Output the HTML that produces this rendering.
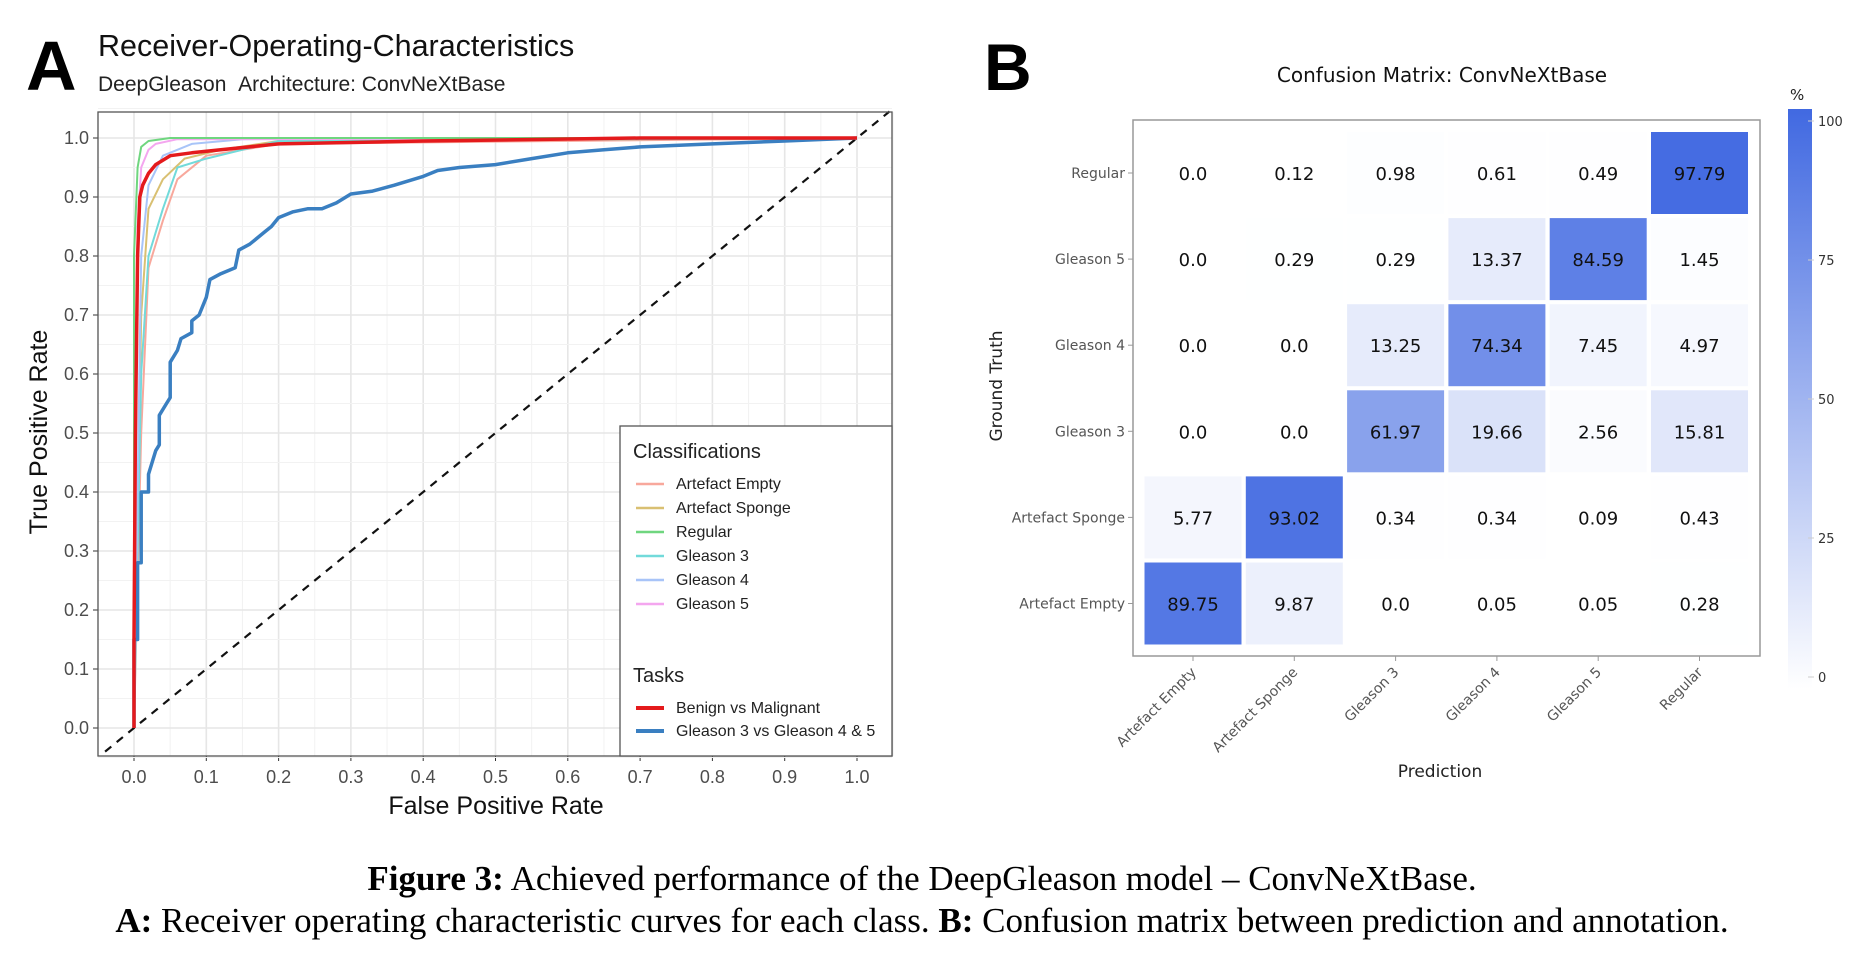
<!DOCTYPE html>
<html><head><meta charset="utf-8"><style>
html,body{margin:0;padding:0;background:#fff;width:1871px;height:956px;overflow:hidden}
svg{display:block}
text{font-family:"Liberation Sans",sans-serif}
</style></head><body>
<svg id="fig" width="1871" height="956" viewBox="0 0 1871 956">
<g id="roc"></g>
<g id="cm"></g>
<text x="922" y="890" text-anchor="middle" font-size="35" style="font-family:'Liberation Serif',serif"><tspan font-weight="bold">Figure 3:</tspan> Achieved performance of the DeepGleason model – ConvNeXtBase.</text>
<text x="922" y="932" text-anchor="middle" font-size="35" style="font-family:'Liberation Serif',serif"><tspan font-weight="bold">A:</tspan> Receiver operating characteristic curves for each class. <tspan font-weight="bold">B:</tspan> Confusion matrix between prediction and annotation.</text>
</svg>
<script>
// ROC data
const rocNames=["Artefact Empty","Artefact Sponge","Regular","Gleason 3","Gleason 4","Gleason 5"];
const rocColors=["#f8a89c","#d9c072","#6fd67f","#72dada","#a8c4f8","#f4a6ef"];
const aeFpr=[0,0.01,0.02,0.04,0.06,0.1,0.2,1];
const aeTpr=[0,0.5,0.78,0.86,0.93,0.97,0.99,1];
const asFpr=[0,0.01,0.02,0.04,0.07,0.12,0.2,1];
const asTpr=[0,0.7,0.88,0.93,0.965,0.98,0.995,1];
const rgFpr=[0,0,0.005,0.01,0.02,0.05,1];
const rgTpr=[0,0.8,0.95,0.985,0.995,1,1];
const g3Fpr=[0,0.01,0.02,0.04,0.06,0.1,0.15,0.2,1];
const g3Tpr=[0,0.6,0.8,0.88,0.95,0.965,0.98,0.995,1];
const g4Fpr=[0,0.01,0.02,0.04,0.08,0.15,1];
const g4Tpr=[0,0.8,0.92,0.97,0.99,0.998,1];
const g5Fpr=[0,0.005,0.01,0.02,0.03,0.06,1];
const g5Tpr=[0,0.85,0.95,0.98,0.99,0.998,1];
const bmFpr=[0,0,0.002,0.005,0.008,0.012,0.02,0.03,0.05,0.08,0.12,0.2,0.4,0.7,1];
const bmTpr=[0,0.15,0.5,0.8,0.9,0.92,0.94,0.955,0.97,0.975,0.98,0.99,0.995,1,1];
const gsFpr=[0,0,0.005,0.005,0.01,0.01,0.02,0.02,0.025,0.03,0.035,0.035,0.045,0.05,0.05,0.06,0.065,0.08,0.08,0.09,0.1,0.105,0.12,0.14,0.145,0.16,0.18,0.19,0.2,0.22,0.24,0.26,0.28,0.3,0.33,0.36,0.4,0.42,0.45,0.5,0.55,0.6,0.65,0.7,0.8,0.9,1];
const gsTpr=[0,0.15,0.15,0.28,0.28,0.4,0.4,0.43,0.45,0.47,0.48,0.53,0.55,0.56,0.62,0.64,0.66,0.67,0.69,0.7,0.73,0.76,0.77,0.78,0.81,0.82,0.84,0.85,0.865,0.875,0.88,0.88,0.89,0.905,0.91,0.92,0.935,0.945,0.95,0.955,0.965,0.975,0.98,0.985,0.99,0.995,1];
const xTicks=[0,0.1,0.2,0.3,0.4,0.5,0.6,0.7,0.8,0.9,1.0];
const yTicks=[0,0.1,0.2,0.3,0.4,0.5,0.6,0.7,0.8,0.9,1.0];
// Confusion matrix data (rows top->bottom)
const rowLabels=["Regular","Gleason 5","Gleason 4","Gleason 3","Artefact Sponge","Artefact Empty"];
const colLabels=["Artefact Empty","Artefact Sponge","Gleason 3","Gleason 4","Gleason 5","Regular"];
const cmRegular=[0.0,0.12,0.98,0.61,0.49,97.79];
const cmG5=[0.0,0.29,0.29,13.37,84.59,1.45];
const cmG4=[0.0,0.0,13.25,74.34,7.45,4.97];
const cmG3=[0.0,0.0,61.97,19.66,2.56,15.81];
const cmAS=[5.77,93.02,0.34,0.34,0.09,0.43];
const cmAE=[89.75,9.87,0.0,0.05,0.05,0.28];
const cbTicks=[0,25,50,75,100];

const NS="http://www.w3.org/2000/svg";
function mk(p,t,a){const e=document.createElementNS(NS,t);for(const k in a)e.setAttribute(k,a[k]);p.appendChild(e);return e;}

// ---------- ROC ----------
const roc=document.getElementById('roc');
const X=v=>134+v*723, Y=v=>728-v*590;
const PL=98,PR=892,PT=112,PB=756;
let t;
t=mk(roc,'text',{x:26,y:90,'font-size':70,'font-weight':'bold'});t.textContent='A';


t=mk(roc,'text',{x:98,y:56,'font-size':30.5,fill:'#111'});t.textContent='Receiver-Operating-Characteristics';


t=mk(roc,'text',{x:98,y:91,'font-size':21,fill:'#222','xml:space':'preserve'});t.textContent='DeepGleason\u00a0\u00a0Architecture: ConvNeXtBase';


mk(roc,'rect',{x:PL,y:PT,width:PR-PL,height:PB-PT,fill:'#fff'});
for(let i=0;i<xTicks.length;i++){
  const v=xTicks[i];
  mk(roc,'line',{x1:X(v+0.05),x2:X(v+0.05),y1:PT,y2:PB,stroke:'#f2f2f2','stroke-width':1});
  mk(roc,'line',{x1:X(v),x2:X(v),y1:PT,y2:PB,stroke:'#e6e6e6','stroke-width':1.6});
  mk(roc,'line',{x1:X(v),x2:X(v),y1:PB,y2:PB+5,stroke:'#333'});
  const l=mk(roc,'text',{x:X(v),y:PB+27,'font-size':18,fill:'#4d4d4d','text-anchor':'middle'});l.textContent=v.toFixed(1);
  
  
}
mk(roc,'line',{x1:X(-0.05),x2:X(-0.05),y1:PT,y2:PB,stroke:'#f2f2f2'});
for(let i=0;i<yTicks.length;i++){
  const v=yTicks[i];
  mk(roc,'line',{y1:Y(v+0.05),y2:Y(v+0.05),x1:PL,x2:PR,stroke:'#f2f2f2','stroke-width':1});
  mk(roc,'line',{y1:Y(v),y2:Y(v),x1:PL,x2:PR,stroke:'#e6e6e6','stroke-width':1.6});
  mk(roc,'line',{y1:Y(v),y2:Y(v),x1:PL-5,x2:PL,stroke:'#333'});
  const l=mk(roc,'text',{x:PL-9,y:Y(v)+6,'font-size':18,fill:'#4d4d4d','text-anchor':'end'});l.textContent=v.toFixed(1);
  
  
}
mk(roc,'line',{y1:Y(-0.05),y2:Y(-0.05),x1:PL,x2:PR,stroke:'#f2f2f2'});
const dl=mk(roc,'line',{x1:X(-0.04),y1:Y(-0.04),x2:X(1.045),y2:Y(1.045),stroke:'#111','stroke-width':2.2,'stroke-dasharray':'8,7'});


function curve(fx,fy,col,w,name){
  const pts=fx.map((v,i)=>X(v).toFixed(1)+','+Y(fy[i]).toFixed(1)).join(' ');
  const p=mk(roc,'polyline',{points:pts,fill:'none',stroke:col,'stroke-width':w,'stroke-linejoin':'round'});
  
  
}
curve(aeFpr,aeTpr,rocColors[0],2,'roc-artefact-empty');
curve(asFpr,asTpr,rocColors[1],2,'roc-artefact-sponge');
curve(g3Fpr,g3Tpr,rocColors[3],2,'roc-gleason-3');
curve(g4Fpr,g4Tpr,rocColors[4],2,'roc-gleason-4');
curve(g5Fpr,g5Tpr,rocColors[5],2,'roc-gleason-5');
curve(rgFpr,rgTpr,rocColors[2],2,'roc-regular');
curve(gsFpr,gsTpr,'#3a7fc1',3.5,'roc-gleason3-vs-gleason45');
curve(bmFpr,bmTpr,'#e41a1c',3.5,'roc-benign-vs-malignant');
mk(roc,'rect',{x:PL,y:PT,width:PR-PL,height:PB-PT,fill:'none',stroke:'#555','stroke-width':1.3});
t=mk(roc,'text',{x:496,y:814,'font-size':25,fill:'#111','text-anchor':'middle'});t.textContent='False Positive Rate';


t=mk(roc,'text',{x:0,y:0,'font-size':25,fill:'#111','text-anchor':'middle',transform:'translate(47,432) rotate(-90)'});t.textContent='True Positive Rate';


// legend
const lg=mk(roc,'g',{});


mk(lg,'rect',{x:620,y:426,width:272,height:330,fill:'#fff',stroke:'#555','stroke-width':1.3});
t=mk(lg,'text',{x:633,y:458,'font-size':20,fill:'#222'});t.textContent='Classifications';
for(let i=0;i<rocNames.length;i++){
  const y=484+i*24;
  mk(lg,'line',{x1:636,x2:664,y1:y,y2:y,stroke:rocColors[i],'stroke-width':2.5});
  const e=mk(lg,'text',{x:676,y:y+5,'font-size':16,fill:'#222'});e.textContent=rocNames[i];
  
  
}
t=mk(lg,'text',{x:633,y:682,'font-size':20,fill:'#222'});t.textContent='Tasks';
const tn=["Benign vs Malignant","Gleason 3 vs Gleason 4 & 5"],tc=["#e41a1c","#3a7fc1"];
for(let i=0;i<2;i++){
  const y=708+i*23;
  mk(lg,'line',{x1:636,x2:664,y1:y,y2:y,stroke:tc[i],'stroke-width':4});
  const e=mk(lg,'text',{x:676,y:y+5,'font-size':16,fill:'#222'});e.textContent=tn[i];
  
  
}

// ---------- Confusion matrix ----------
const cm=document.getElementById('cm');
const rows=[cmRegular,cmG5,cmG4,cmG3,cmAS,cmAE];
const CX=i=>1193+i*101.3, CY=j=>173+j*86.1;
t=mk(cm,'text',{x:984,y:90,'font-size':66,'font-weight':'bold'});t.textContent='B';


t=mk(cm,'text',{x:1442,y:82,'font-size':20,fill:'#111','text-anchor':'middle',style:"font-family:'DejaVu Sans',sans-serif"});t.textContent='Confusion Matrix: ConvNeXtBase';


function col(v){const f=Math.min(v/100,1);const r=Math.round(255+(65-255)*f),g=Math.round(255+(105-255)*f),b=Math.round(255+(225-255)*f);return `rgb(${r},${g},${b})`;}
mk(cm,'rect',{x:1133,y:120,width:627,height:536,fill:'#fff'});
for(let j=0;j<6;j++)for(let i=0;i<6;i++){
  const v=rows[j][i];
  const c=mk(cm,'rect',{x:CX(i)-48.5,y:CY(j)-41,width:97,height:82,fill:col(v)});
  
  
  const l=mk(cm,'text',{x:CX(i),y:CY(j)+7,'font-size':18,fill:'#111','text-anchor':'middle',style:"font-family:'DejaVu Sans',sans-serif"});
  l.textContent=(v===0?'0.0':String(v));
  
  
}
mk(cm,'rect',{x:1133,y:120,width:627,height:536,fill:'none',stroke:'#999','stroke-width':1.5});
for(let j=0;j<6;j++){
  mk(cm,'line',{x1:1128,x2:1133,y1:CY(j),y2:CY(j),stroke:'#999'});
  const l=mk(cm,'text',{x:1125,y:CY(j)+5,'font-size':14,fill:'#555','text-anchor':'end',style:"font-family:'DejaVu Sans',sans-serif"});l.textContent=rowLabels[j];
  
  
}
for(let i=0;i<6;i++){
  mk(cm,'line',{x1:CX(i),x2:CX(i),y1:656,y2:661,stroke:'#999'});
  const l=mk(cm,'text',{x:0,y:0,'font-size':14,fill:'#555','text-anchor':'end',style:"font-family:'DejaVu Sans',sans-serif",transform:`translate(${CX(i)+4},${673}) rotate(-45)`});l.textContent=colLabels[i];
  
  
}
t=mk(cm,'text',{x:1440,y:777,'font-size':17,fill:'#222','text-anchor':'middle',style:"font-family:'DejaVu Sans',sans-serif"});t.textContent='Prediction';


t=mk(cm,'text',{x:0,y:0,'font-size':17,fill:'#222','text-anchor':'middle',style:"font-family:'DejaVu Sans',sans-serif",transform:'translate(1002,386) rotate(-90)'});t.textContent='Ground Truth';


// colorbar
const defs=mk(cm,'defs',{});
const gr=mk(defs,'linearGradient',{id:'cbg',x1:0,y1:1,x2:0,y2:0});
mk(gr,'stop',{offset:0,'stop-color':'#ffffff'});
mk(gr,'stop',{offset:1,'stop-color':'#4169e1'});
const CB=v=>677-v*5.56;
const cb=mk(cm,'rect',{x:1788,y:CB(100)-12,width:24,height:CB(0)-CB(100)+24,fill:'url(#cbg)'});


t=mk(cm,'text',{x:1790,y:100,'font-size':15,fill:'#222',style:"font-family:'DejaVu Sans',sans-serif"});t.textContent='%';


for(const v of cbTicks){
  mk(cm,'line',{x1:1808,x2:1814,y1:CB(v),y2:CB(v),stroke:'#ccc'});
  const l=mk(cm,'text',{x:1818,y:CB(v)+5,'font-size':13,fill:'#333',style:"font-family:'DejaVu Sans',sans-serif"});l.textContent=v;
  
  
}
</script>
</body></html>
